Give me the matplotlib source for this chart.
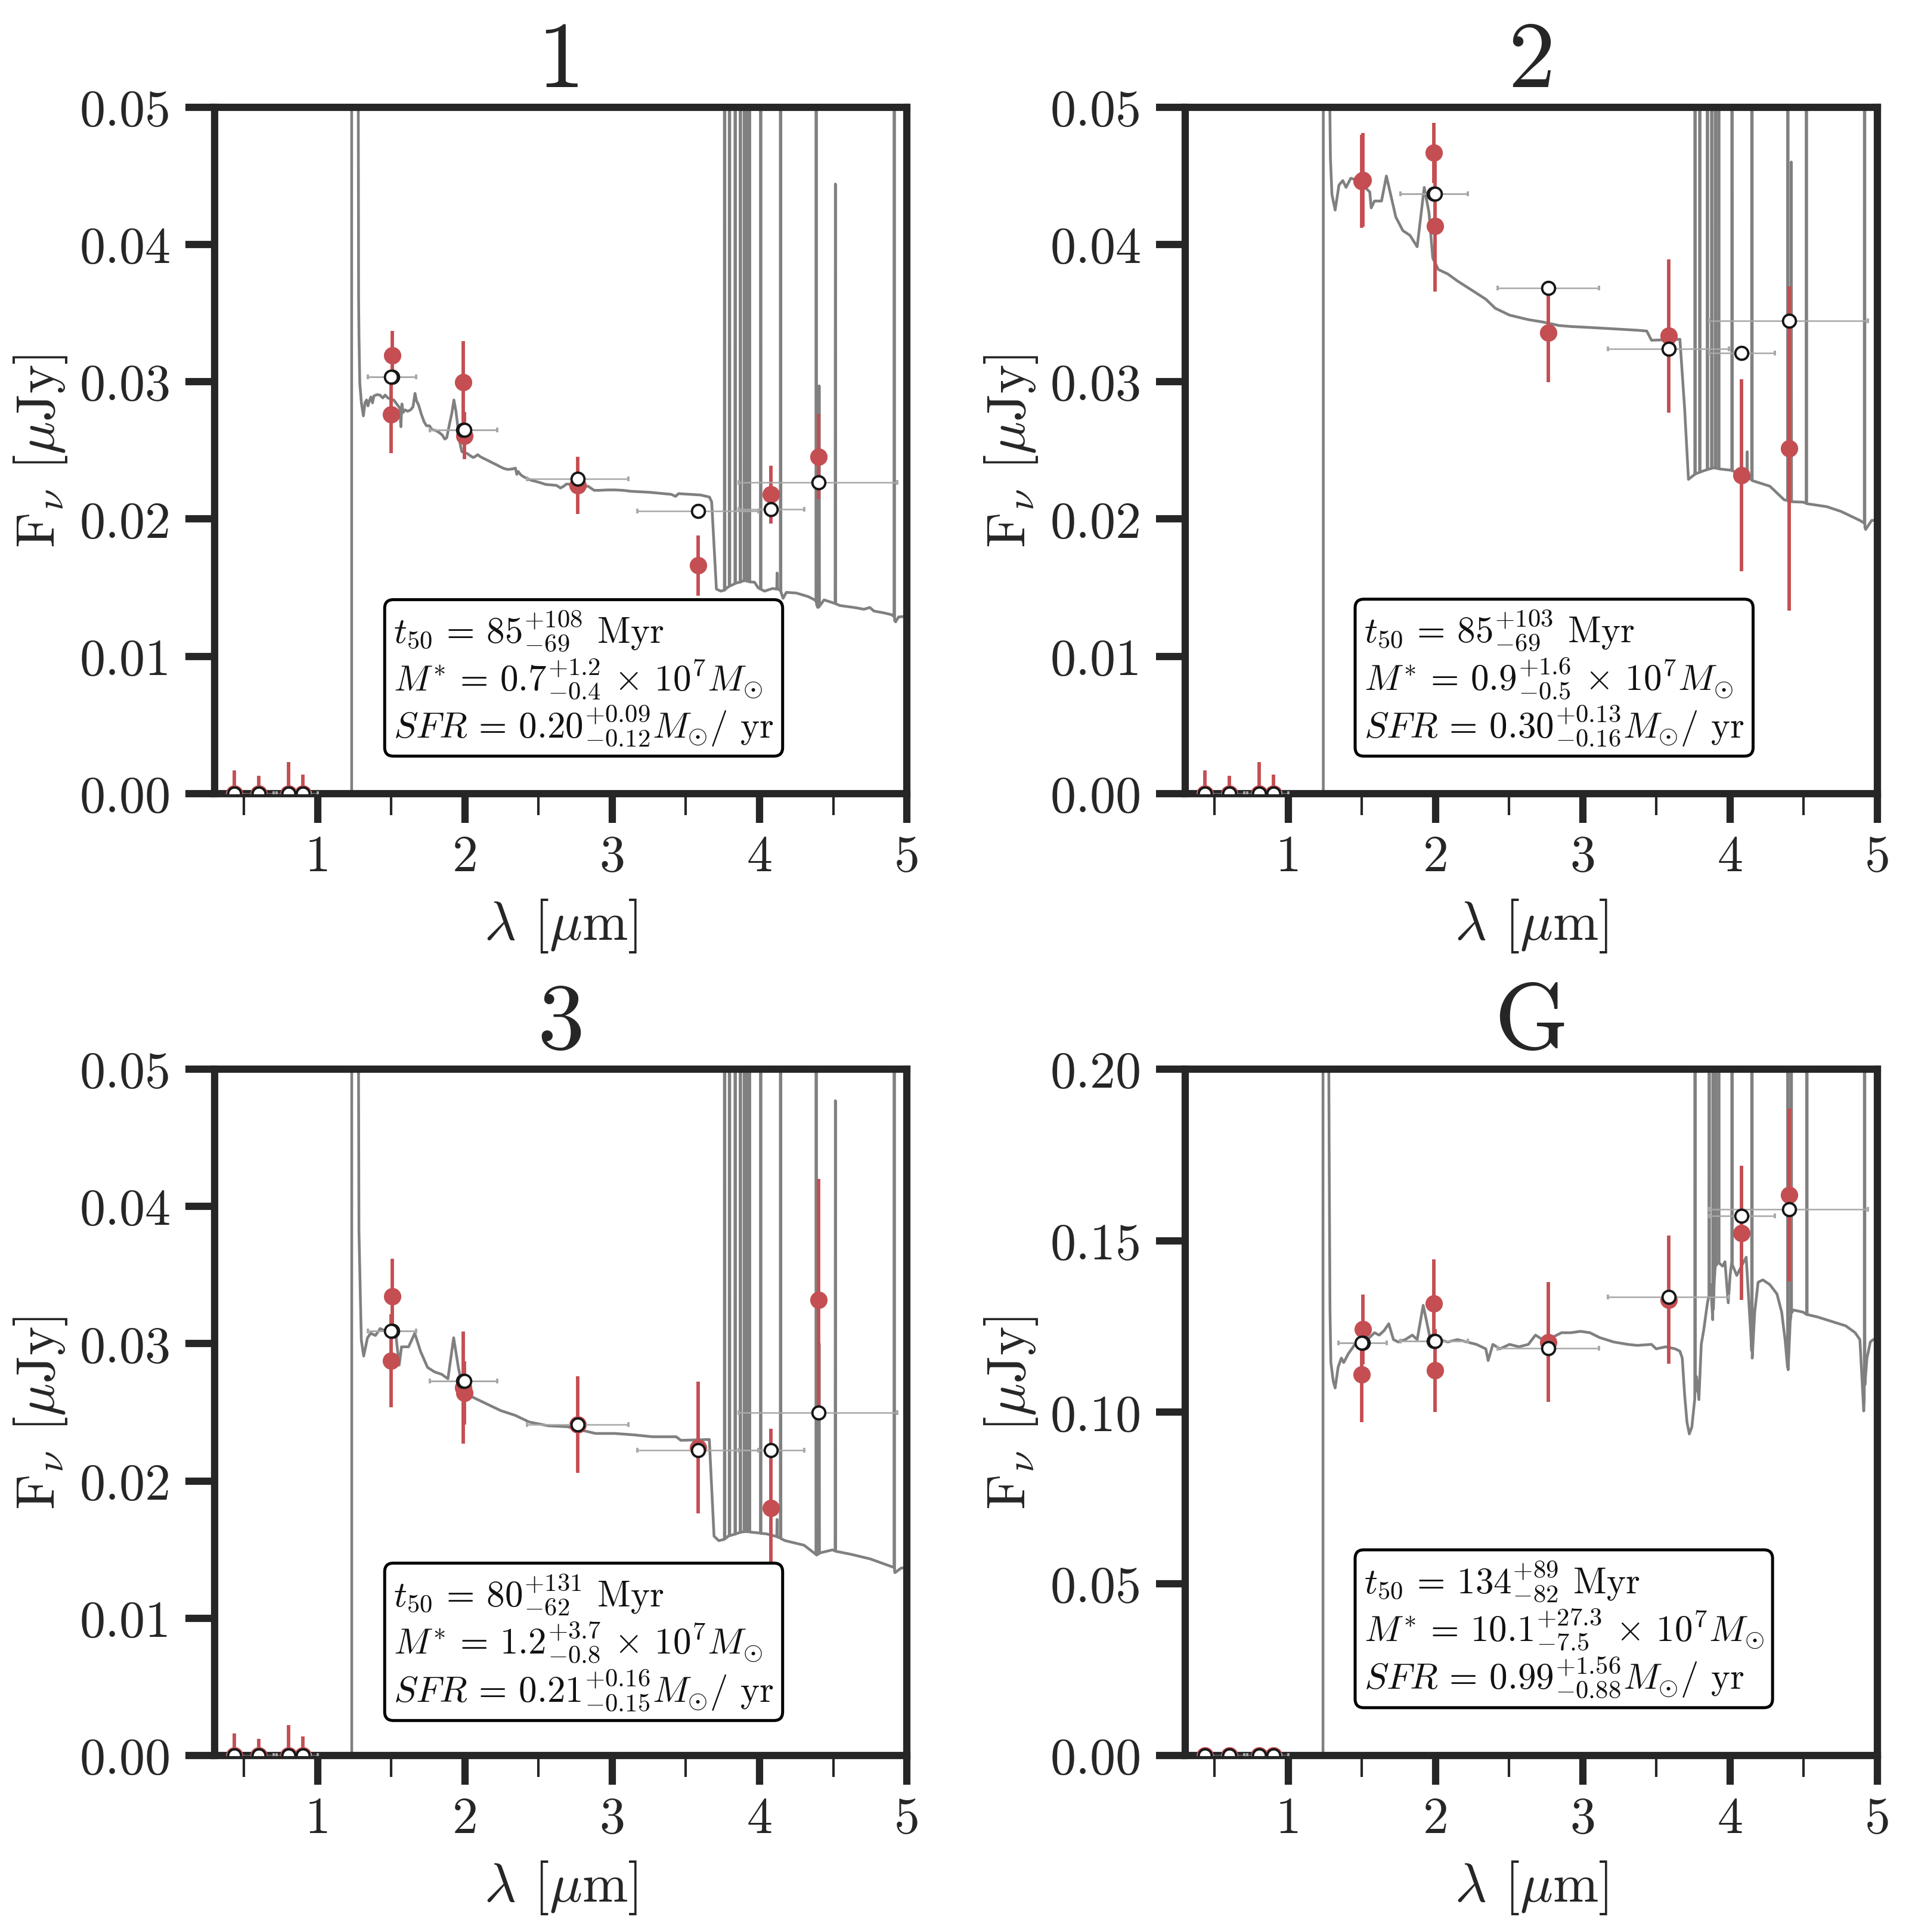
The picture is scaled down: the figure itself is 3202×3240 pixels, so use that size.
import numpy as np
import matplotlib
matplotlib.use("Agg")
import matplotlib.pyplot as plt

plt.rcParams['font.family'] = ['cmr10', 'DejaVu Serif']
plt.rcParams['mathtext.fontset'] = 'cm'
plt.rcParams['axes.unicode_minus'] = False
plt.rcParams['axes.formatter.use_mathtext'] = True

# ---------------------------------------------------------------- data
panel_titles = ["1", "2", "3", "G"]

filter_um = [0.435, 0.600, 0.800, 0.900, 1.505, 1.500, 1.988, 1.995, 2.765, 3.585, 4.077, 4.399]
filter_lo_um = [0.390, 0.470, 0.700, 0.800, 1.341, 1.341, 1.763, 1.763, 2.423, 3.170, 3.858, 3.858]
filter_hi_um = [0.480, 0.720, 0.950, 1.000, 1.667, 1.667, 2.217, 2.217, 3.111, 3.990, 4.302, 4.936]

obs_fnu_1 = [0, 0, 0, 0, 0.0319, 0.0276, 0.02995, 0.02607, 0.02245, 0.01662, 0.02179, 0.02454]
obs_err_1 = [0.0017, 0.0013, 0.0023, 0.0014, 0.0018, 0.0028, 0.0030, 0.0017, 0.0021, 0.0022, 0.0021, 0.0031]
model_fnu_1 = [0, 0, 0, 0, 0.03034, 0.03034, 0.02647, 0.02650, 0.02293, 0.0206, 0.0207, 0.02265]

obs_fnu_2 = [0, 0, 0, 0, 0.0447, 0.0446, 0.04667, 0.04136, 0.03357, 0.03333, 0.02318, 0.02514]
obs_err_2 = [0.0017, 0.0013, 0.0023, 0.0014, 0.0034, 0.0034, 0.0022, 0.0048, 0.0036, 0.0056, 0.0070, 0.0118]
model_fnu_2 = [0, 0, 0, 0, np.nan, np.nan, 0.04368, 0.04368, 0.03682, 0.03241, 0.03208, 0.03444]

obs_fnu_3 = [0, 0, 0, 0, 0.03347, 0.02876, 0.0268, 0.0264, 0.02411, 0.02242, 0.01801, 0.0332]
obs_err_3 = [0.0016, 0.0012, 0.0022, 0.0014, 0.0027, 0.0034, 0.0041, 0.0023, 0.0035, 0.0048, 0.0058, 0.0088]
model_fnu_3 = [0, 0, 0, 0, 0.03091, 0.03091, 0.0273, 0.0273, 0.02411, 0.02222, 0.02222, 0.02497]

obs_fnu_G = [0, 0, 0, 0, 0.1242, 0.1110, 0.1317, 0.1122, 0.1205, 0.1328, 0.1523, 0.1633]
obs_err_G = [0.0017, 0.0013, 0.0023, 0.0014, 0.0102, 0.0139, 0.0129, 0.0121, 0.0175, 0.0187, 0.0195, 0.0252]
model_fnu_G = [0, 0, 0, 0, 0.1202, 0.1202, 0.1207, 0.1207, 0.1186, 0.1336, 0.1572, 0.1592]

spec_um_1 = [
    0.30, 1.2300, 1.2305, 1.2306, 1.2740, 1.2776, 1.2803, 1.2857, 1.2965, 1.3100,
    1.3208, 1.3315, 1.3410, 1.3504, 1.3612, 1.3720, 1.3814, 1.4016, 1.4219, 1.4421,
    1.4583, 1.4758, 1.4960, 1.5162, 1.5364, 1.5566, 1.5647, 1.5715, 1.5796, 1.5930,
    1.6106, 1.6308, 1.6470, 1.6604, 1.6712, 1.6847, 1.7049, 1.7224, 1.7386, 1.7588,
    1.7764, 1.7993, 1.8262, 1.8464, 1.8626, 1.8761, 1.8936, 1.9111, 1.9246, 1.9381,
    1.9516, 1.9678, 1.9785, 1.9947, 2.0149, 2.0351, 2.0553, 2.0688, 2.0864, 2.1025,
    2.1295, 2.1565, 2.1834, 2.2104, 2.2373, 2.2643, 2.2913, 2.3250, 2.3425, 2.3519,
    2.3613, 2.3788, 2.3991, 2.4260, 2.4530, 2.4800, 2.5136, 2.5473, 2.5810, 2.6215,
    2.6484, 2.6686, 2.6889, 2.7226, 2.7563, 2.8034, 2.8371, 2.8573, 2.8776, 2.9113,
    2.9652, 3.0191, 3.0731, 3.1270, 3.2500, 3.4000, 3.4300, 3.4500, 3.6000, 3.6600,
    3.6750, 3.6910, 3.7070, 3.7370,
    3.761, 3.763, 3.765, 3.780, 3.794, 3.796, 3.798, 3.815, 3.833, 3.835, 3.837, 3.855,
    3.868, 3.870, 3.872, 3.885, 3.895, 3.897, 3.899, 3.907, 3.913, 3.915, 3.917, 3.924,
    3.930, 3.932, 3.934, 3.966, 3.990, 4.006, 4.008, 4.010, 4.034, 4.088, 4.117, 4.119,
    4.121, 4.128, 4.141, 4.143, 4.145, 4.160, 4.182, 4.250, 4.331, 4.375, 4.383, 4.385,
    4.387, 4.395, 4.403, 4.405, 4.407, 4.438, 4.513, 4.515, 4.517, 4.546, 4.641, 4.709,
    4.749, 4.776, 4.843, 4.897, 4.913, 4.915, 4.917, 4.924, 4.944, 4.980, 5.000]
spec_fnu_1 = [
    0.0, 0.0, 0.0, 0.50, 0.060, 0.0361, 0.03323, 0.0299, 0.02846, 0.02751,
    0.02846, 0.02867, 0.02824, 0.02860, 0.02889, 0.02846, 0.02896, 0.02906, 0.02903, 0.02882,
    0.02903, 0.02882, 0.02874, 0.02867, 0.02838, 0.02809, 0.02672, 0.02838, 0.02776, 0.02795,
    0.02785, 0.02795, 0.02817, 0.02915, 0.02860, 0.02831, 0.02759, 0.02708, 0.02679, 0.02679,
    0.02650, 0.02646, 0.02629, 0.02611, 0.02582, 0.02592, 0.02686, 0.02773, 0.02867, 0.02788,
    0.02672, 0.02542, 0.02491, 0.02484, 0.02477, 0.02462, 0.02448, 0.02455, 0.02469, 0.02455,
    0.02440, 0.02426, 0.02411, 0.02397, 0.02382, 0.02368, 0.02361, 0.02365, 0.02371, 0.02325,
    0.02346, 0.02322, 0.02307, 0.02293, 0.02281, 0.02274, 0.02264, 0.02252, 0.02249, 0.02245,
    0.02226, 0.02238, 0.02255, 0.02252, 0.02249, 0.02241, 0.02238, 0.02223, 0.02209, 0.02209,
    0.02212, 0.02212, 0.02209, 0.02202, 0.02195, 0.02180, 0.02165, 0.02185, 0.02175, 0.02160,
    0.02125, 0.01805, 0.01490, 0.01475,
    0.01482, 1.0, 0.01485, 0.01500, 0.01510, 1.0, 0.01512, 0.01520, 0.01530, 1.0, 0.01532, 0.01538,
    0.01540, 1.0, 0.01542, 0.01548, 0.01550, 1.0, 0.01552, 0.01550, 0.01548, 1.0, 0.01548, 0.01545,
    0.01545, 1.0, 0.01542, 0.01540, 0.01500, 0.01490, 1.0, 0.01488, 0.01475, 0.01494, 0.01490, 0.01607,
    0.01490, 0.01488, 0.01480, 1.0, 0.01470, 0.01423, 0.01466, 0.01461, 0.01435, 0.01411, 0.01400, 1.0,
    0.01380, 0.01356, 0.01360, 0.0297, 0.01365, 0.01411, 0.01385, 0.0444, 0.01383, 0.01370, 0.01356, 0.01343,
    0.01356, 0.01330, 0.01317, 0.01303, 0.01290, 1.0, 0.01260, 0.01251, 0.01287, 0.01290, 0.01290]

spec_um_2 = [
    0.30, 1.2375, 1.2380, 1.2780, 1.2820, 1.2860, 1.2960, 1.3180, 1.3440, 1.3700,
    1.3920, 1.4240, 1.4730, 1.5210, 1.5530, 1.5630, 1.5850, 1.6330, 1.6660, 1.6980,
    1.7300, 1.7780, 1.8260, 1.8750, 1.9230, 1.9550, 1.9810, 2.0190, 2.0840, 2.1480,
    2.2440, 2.3410, 2.4050, 2.5020, 2.6300, 2.7270, 2.8390, 2.9200, 3.0480, 3.2090,
    3.3700, 3.4340, 3.4660, 3.6590, 3.6910, 3.7170, 3.7560,
    3.760, 3.762, 3.764, 3.792, 3.794, 3.796, 3.844, 3.846, 3.848, 3.873, 3.875, 3.877,
    3.884, 3.898, 3.900, 3.902, 3.921, 3.923, 3.925, 4.011, 4.013, 4.015, 4.114, 4.116,
    4.118, 4.141, 4.146, 4.148, 4.150, 4.270, 4.367, 4.390, 4.392, 4.394, 4.413, 4.415,
    4.417, 4.495, 4.516, 4.518, 4.520, 4.656, 4.752, 4.881, 4.911, 4.913, 4.915, 4.920,
    4.961, 5.000]
spec_fnu_2 = [
    0.0, 0.0, 0.60, 0.080, 0.0500, 0.0463, 0.04365, 0.0425, 0.04432, 0.04465,
    0.04415, 0.04482, 0.04465, 0.04415, 0.04382, 0.04266, 0.04316, 0.04316, 0.04498, 0.04349,
    0.04199, 0.04100, 0.04066, 0.03983, 0.04415, 0.04233, 0.03900, 0.03817, 0.03784, 0.03734,
    0.03668, 0.03601, 0.03535, 0.03485, 0.03452, 0.03435, 0.03409, 0.03402, 0.03395, 0.03385,
    0.03375, 0.03369, 0.03302, 0.03309, 0.02804, 0.02289, 0.02322,
    0.02325, 1.0, 0.02328, 0.02340, 1.0, 0.02342, 0.02360, 1.0, 0.02362, 0.02368, 1.0, 0.02370,
    0.02372, 0.02372, 1.0, 0.02370, 0.02368, 1.0, 0.02365, 0.02355, 1.0, 0.02352, 0.02300, 0.0249,
    0.02300, 0.02289, 0.02285, 1.0, 0.02280, 0.02239, 0.02140, 0.02135, 1.0, 0.02130, 0.02128, 0.0460,
    0.02126, 0.02123, 0.02115, 1.0, 0.02112, 0.02090, 0.02056, 0.01990, 0.01970, 1.0, 0.01940, 0.01924,
    0.01990, 0.01990]

spec_um_3 = [
    0.30, 1.2310, 1.2316, 1.2720, 1.2800, 1.2960, 1.3120, 1.3380, 1.3600, 1.3920,
    1.4240, 1.4730, 1.5310, 1.5530, 1.5690, 1.6170, 1.6590, 1.6980, 1.7460, 1.7940,
    1.8420, 1.8840, 1.9230, 1.9550, 1.9870, 2.0510, 2.1480, 2.2440, 2.3410, 2.4370,
    2.5660, 2.6950, 2.8230, 2.8870, 3.0160, 3.1450, 3.2730, 3.4340, 3.4660, 3.6590,
    3.6910, 3.7230,
    3.761, 3.763, 3.765, 3.788, 3.794, 3.796, 3.798, 3.833, 3.835, 3.837, 3.868, 3.870,
    3.872, 3.895, 3.897, 3.899, 3.913, 3.915, 3.917, 3.930, 3.932, 3.934, 4.006, 4.008,
    4.010, 4.045, 4.117, 4.119, 4.121, 4.141, 4.143, 4.145, 4.174, 4.302, 4.383, 4.385,
    4.387, 4.403, 4.405, 4.407, 4.495, 4.513, 4.515, 4.517, 4.624, 4.752, 4.881, 4.913,
    4.915, 4.917, 4.920, 4.961, 5.000]
spec_fnu_3 = [
    0.0, 0.0, 0.50, 0.070, 0.0382, 0.03027, 0.02910, 0.03043, 0.03076, 0.03060,
    0.03110, 0.03086, 0.03060, 0.02844, 0.02977, 0.02977, 0.03076, 0.02944, 0.02827, 0.02794,
    0.02777, 0.02744, 0.03043, 0.02827, 0.02661, 0.02611, 0.02561, 0.02512, 0.02478, 0.02429,
    0.02402, 0.02395, 0.02362, 0.02346, 0.02346, 0.02336, 0.02322, 0.02322, 0.02296, 0.02302,
    0.01598, 0.01565,
    0.01575, 1.0, 0.01578, 0.01598, 0.01600, 1.0, 0.01602, 0.01612, 1.0, 0.01614, 0.01625, 1.0,
    0.01627, 0.01630, 1.0, 0.01631, 0.01631, 1.0, 0.01631, 0.01630, 1.0, 0.01628, 0.01620, 1.0,
    0.01618, 0.01615, 0.01595, 0.0172, 0.01592, 0.01585, 1.0, 0.01580, 0.01565, 0.01532, 0.01465, 1.0,
    0.01460, 0.01470, 0.0300, 0.01475, 0.01498, 0.01490, 0.0477, 0.01488, 0.01465, 0.01432, 0.01382, 0.01370,
    1.0, 0.01340, 0.01332, 0.01365, 0.01370]

spec_um_G = [
    0.30, 1.2355, 1.2360, 1.2700, 1.2780, 1.2830, 1.2890, 1.3050, 1.3180, 1.3380,
    1.3600, 1.3760, 1.4080, 1.4410, 1.4730, 1.5050, 1.5370, 1.5850, 1.6170, 1.6500,
    1.6820, 1.7140, 1.7460, 1.7940, 1.8420, 1.8750, 1.9160, 1.9390, 1.9710, 2.0190,
    2.0840, 2.1480, 2.2120, 2.2770, 2.3410, 2.3570, 2.3890, 2.4370, 2.5020, 2.5660,
    2.6300, 2.6780, 2.7270, 2.7910, 2.8550, 2.9200, 2.9840, 3.0480, 3.1130, 3.2090,
    3.3050, 3.3700, 3.4660, 3.4980, 3.5630, 3.6270, 3.6590, 3.6750, 3.6910, 3.7070,
    3.7230, 3.7400, 3.7560, 3.7600, 3.7620, 3.7640, 3.7720, 3.7880, 3.8040, 3.8200,
    3.8460, 3.8560, 3.8580, 3.8600, 3.8680, 3.8780, 3.8820, 3.8840, 3.8860, 3.8920,
    3.8980, 3.9000, 3.9020, 3.9210, 3.9230, 3.9250, 3.9490, 3.9650, 3.9870, 4.0000,
    4.0110, 4.0130, 4.0150, 4.0450, 4.0770, 4.1090, 4.1350, 4.1460, 4.1480, 4.1500,
    4.1670, 4.1900, 4.2220, 4.2700, 4.3180, 4.3500, 4.3730, 4.3900, 4.3920, 4.3940,
    4.4080, 4.4130, 4.4150, 4.4170, 4.4310, 4.4950, 4.5190, 4.5210, 4.5230, 4.5920,
    4.6880, 4.7850, 4.8490, 4.8810, 4.9070, 4.9110, 4.9130, 4.9150, 4.9290, 4.9520,
    4.9710, 5.0000]
spec_fnu_G = [
    0.0, 0.0, 2.0, 0.25, 0.170, 0.130, 0.1145, 0.1091, 0.1071, 0.1131,
    0.1158, 0.1145, 0.1171, 0.1191, 0.1212, 0.1198, 0.1212, 0.1232, 0.1225, 0.1238,
    0.1258, 0.1212, 0.1205, 0.1212, 0.1225, 0.1212, 0.1312, 0.1265, 0.1198, 0.1212,
    0.1205, 0.1212, 0.1205, 0.1198, 0.1185, 0.1151, 0.1198, 0.1185, 0.1198, 0.1191,
    0.1198, 0.1225, 0.1212, 0.1218, 0.1232, 0.1232, 0.1236, 0.1232, 0.1218, 0.1205,
    0.1198, 0.1195, 0.1198, 0.1185, 0.1191, 0.1185, 0.1178, 0.1158, 0.1051, 0.0971,
    0.0937, 0.0957, 0.1024, 0.1040, 2.0, 0.1060, 0.1104, 0.1037, 0.1198, 0.1238,
    0.1319, 0.1340, 2.0, 0.1360, 0.1372, 0.1300, 0.1270, 2.0, 0.1300, 0.1380,
    0.1420, 2.0, 0.1426, 0.1439, 2.0, 0.1435, 0.1426, 0.1439, 0.1319, 0.1400,
    0.1439, 2.0, 0.1430, 0.1399, 0.1426, 0.1452, 0.1265, 0.1180, 2.0, 0.1158,
    0.1292, 0.1379, 0.1386, 0.1372, 0.1345, 0.1292, 0.1212, 0.1130, 2.0, 0.1124,
    0.1265, 0.1280, 2.0, 0.1290, 0.1298, 0.1292, 0.1285, 2.0, 0.1285, 0.1278,
    0.1265, 0.1252, 0.1232, 0.1212, 0.1004, 0.1040, 2.0, 0.1080, 0.1158, 0.1205,
    0.1212, 0.1212]

t50_val = ["85", "85", "80", "134"]
t50_up = ["108", "103", "131", "89"]
t50_lo = ["69", "69", "62", "82"]
mass_val = ["0.7", "0.9", "1.2", "10.1"]
mass_up = ["1.2", "1.6", "3.7", "27.3"]
mass_lo = ["0.4", "0.5", "0.8", "7.5"]
sfr_val = ["0.20", "0.30", "0.21", "0.99"]
sfr_up = ["0.09", "0.13", "0.16", "1.56"]
sfr_lo = ["0.12", "0.16", "0.15", "0.88"]

y_max = [0.05, 0.05, 0.05, 0.20]
y_ticks_small = [0.00, 0.01, 0.02, 0.03, 0.04, 0.05]
y_ticks_big = [0.00, 0.05, 0.10, 0.15, 0.20]
x_major = [1, 2, 3, 4, 5]
x_minor = [0.5, 1.5, 2.5, 3.5, 4.5]

obs_all = [obs_fnu_1, obs_fnu_2, obs_fnu_3, obs_fnu_G]
err_all = [obs_err_1, obs_err_2, obs_err_3, obs_err_G]
mod_all = [model_fnu_1, model_fnu_2, model_fnu_3, model_fnu_G]
spec_x_all = [spec_um_1, spec_um_2, spec_um_3, spec_um_G]
spec_y_all = [spec_fnu_1, spec_fnu_2, spec_fnu_3, spec_fnu_G]

# ---------------------------------------------------------------- style
DARK = '#262626'
RED = '#C44E52'
GRAY = '#808080'

axes_rects = [
    [0.11243, 0.58902, 0.36259, 0.35526],
    [0.62086, 0.58902, 0.36259, 0.35526],
    [0.11243, 0.09133, 0.36259, 0.35514],
    [0.62086, 0.09133, 0.36259, 0.35514],
]
box_anchor = [(0.2457, 0.0547), (0.2455, 0.0547), (0.2457, 0.0510), (0.2455, 0.0697)]

fig = plt.figure(figsize=(16.01, 16.205), dpi=200)

fx = np.array(filter_um)
xerr = [fx - np.array(filter_lo_um), np.array(filter_hi_um) - fx]

for i in range(4):
    ax = fig.add_axes(axes_rects[i])
    sx, sy = spec_x_all[i], spec_y_all[i]
    assert len(sx) == len(sy)
    ax.plot(sx, sy, color=GRAY, lw=1.65, zorder=1)

    ax.errorbar(filter_um, obs_all[i], yerr=err_all[i], fmt='o', color=RED,
                ms=10.5, mew=0, elinewidth=2.1, capsize=0, zorder=3)

    eb = ax.errorbar(filter_um, mod_all[i], xerr=xerr, fmt='o', ms=7.8,
                     mfc='white', mec='#161616', mew=1.4, ecolor='#a8a8a8',
                     elinewidth=0.9, capsize=1.4, capthick=1.7, zorder=4)
    for cap in eb[1]:
        cap.set_color('#161616')
        cap.set_zorder(4)

    ax.set_xlim(0.30, 5.0)
    ax.set_ylim(0, y_max[i])
    ax.set_xticks(x_major)
    ax.set_xticklabels([str(v) for v in x_major])
    ax.set_xticks(x_minor, minor=True)
    yt = y_ticks_big if y_max[i] > 0.1 else y_ticks_small
    ax.set_yticks(yt)
    ax.set_yticklabels([f"{v:.2f}" for v in yt])

    for sp in ax.spines.values():
        sp.set_linewidth(4.4)
        sp.set_color(DARK)
    ax.tick_params(axis='both', which='major', direction='out', length=17.5,
                   width=4.4, color=DARK, labelcolor=DARK, labelsize=31)
    ax.tick_params(axis='x', which='major', pad=7)
    ax.tick_params(axis='y', which='major', pad=9)
    ax.tick_params(axis='x', which='minor', direction='out', length=13,
                   width=1.5, color=DARK)

    ax.set_title(panel_titles[i], fontsize=57, pad=12.5, color=DARK)
    ax.set_xlabel(r'$\lambda$ [$\mu$m]', fontsize=33, labelpad=10, color=DARK)
    ax.set_ylabel(r'F$_{\nu}$ [$\mu$Jy]', fontsize=33, labelpad=6, color=DARK)

    txt = (rf"$t_{{50}}\,=\,{t50_val[i]}^{{+{t50_up[i]}}}_{{-{t50_lo[i]}}}$ Myr" "\n"
           rf"$M^{{*}}\,=\,{mass_val[i]}^{{+{mass_up[i]}}}_{{-{mass_lo[i]}}}\,\times\,10^{{7}} M_{{\odot}}$" "\n"
           rf"$SFR\,=\,{sfr_val[i]}^{{+{sfr_up[i]}}}_{{-{sfr_lo[i]}}} M_{{\odot}}/$ yr")
    bx, by = box_anchor[i]
    ax.text(bx + 0.0126, by + 0.0127, txt, transform=ax.transAxes,
            ha='left', va='bottom', fontsize=22, linespacing=1.1,
            color='#111111', zorder=6,
            bbox=dict(boxstyle='round,pad=0.24', fc='white', ec='black', lw=1.8))

fig.savefig('out.png', dpi=200)
